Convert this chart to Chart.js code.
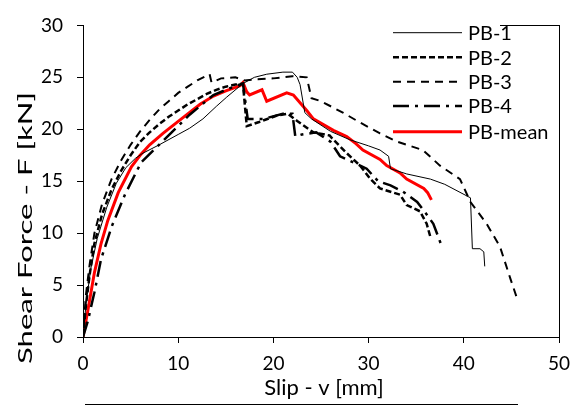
<!DOCTYPE html>
<html>
<head>
<meta charset="utf-8">
<script src="https://cdn.jsdelivr.net/npm/chart.js@4/dist/chart.umd.min.js"></script>
<style>
html,body{margin:0;padding:0;background:#fff;}
#wrap{width:581px;height:406px;position:relative;}
</style>
</head>
<body>
<div id="wrap"><canvas id="c" width="581" height="406"></canvas></div>
<script>
// ---- data (slip v [mm], shear force F [kN]) ----
const xTicks = [0, 10, 20, 30, 40, 50];
const yTicks = [0, 5, 10, 15, 20, 25, 30];
const seriesNames = ['PB-1', 'PB-2', 'PB-3', 'PB-4', 'PB-mean'];

const pb1 = [[0,0],[0.3,3],[0.8,6.5],[1.5,9.5],[2.5,12.5],[3.5,14.8],[4.5,16.3],[5.5,17.2],[6.3,17.7],[8,18.5],[10,19.5],[11.2,20.1],[12.6,21.0],[14,22.2],[15.1,23.1],[16.8,24.4],[18,25.0],[19.3,25.3],[21,25.5],[22,25.5],[22.5,25.0],[22.8,24.3],[23.3,21.6],[24,21.0],[26,19.8],[28,19.0],[30,18.4],[31.2,18.0],[32.1,17.4],[32.3,16.2],[34,15.7],[36.5,15.2],[38,14.7],[40.7,13.4],[40.9,8.5],[41.7,8.5],[42.1,8.2],[42.2,6.8]];
const pb2 = [[0,0],[0.3,3],[0.7,6],[1.2,9],[2,11.8],[3,14.2],[4,16],[5,17.5],[6,18.8],[7,19.7],[8,20.5],[9,21.2],[10,21.8],[11,22.4],[12,22.9],[13,23.4],[14,23.8],[15,24.1],[16,24.3],[16.8,24.4],[17.2,20.3],[18.5,20.7],[20.3,21.3],[21.5,21.5],[22.5,20.8],[24.2,19.7],[25.9,19.4],[26.3,19.0],[27.7,17.7],[29.1,16.5],[30.2,15.2],[31.2,14.3],[33.3,13.7],[34,12.7],[35.4,12.1],[36.1,10.9],[36.5,9.6]];
const pb3 = [[0,0],[0.3,4],[0.7,7],[1.2,10],[2,12.8],[3,15.2],[4,17],[5,18.5],[6,19.8],[7,20.9],[8,21.9],[9,22.7],[10,23.5],[11,24.1],[12,24.7],[13.3,25.3],[13.5,24.5],[14.5,24.9],[16,25.0],[17,24.7],[18,24.8],[20,24.9],[22,25.1],[23.5,25.0],[24,23.0],[25,22.7],[27.3,21.6],[29,20.7],[31.2,19.6],[33,18.8],[35.7,18.0],[37.5,16.5],[39.6,15.2],[40.7,13.0],[42.4,10.9],[43.8,8.7],[44.9,5.6],[45.6,3.7]];
const pb4 = [[0,0],[0.5,1.5],[1.2,4.3],[1.9,7.5],[3.0,10.6],[4.4,13.7],[6.1,16.8],[8.1,18.6],[10.2,20.5],[11.2,21.4],[13.7,23.3],[16.1,24.2],[16.8,24.4],[17.3,21.0],[19,21.0],[21,21.5],[22,21.5],[22.3,19.3],[23,19.5],[24.5,19.7],[26,18.8],[27,17.4],[28.4,16.8],[29.8,16.2],[31,15.0],[32.3,14.6],[33.6,14.0],[35.1,13.0],[36.1,11.8],[36.8,10.9],[37.7,8.7]];
const pbMean = [[0,0],[0.5,2.5],[1.2,6.2],[1.9,9.0],[2.6,11.2],[3.7,13.9],[5.1,16.4],[6,17.5],[7,18.5],[8.4,19.6],[10.2,20.9],[12.3,22.4],[13.7,23.2],[15,23.7],[16.5,24.2],[16.8,24.5],[17.2,23.6],[17.5,23.3],[18.8,23.8],[19.3,22.7],[21.4,23.5],[22.1,23.3],[23.5,21.8],[24.2,21.0],[26.3,19.9],[27.7,19.3],[28.7,18.6],[29.4,18.0],[31.2,17.1],[31.9,16.5],[33.3,15.8],[34,15.2],[35.8,14.3],[36.2,13.9],[36.6,13.2]];

const toXY = a => a.map(p => ({x: p[0], y: p[1]}));

const styles = [
  {color:'#000', width:1, dash:[]},
  {color:'#000', width:2.5, dash:[6,3]},
  {color:'#000', width:2, dash:[8,6]},
  {color:'#000', width:2.5, dash:[16,6,3,6]},
  {color:'#ff0000', width:3, dash:[]}
];
const allData = [pb1, pb2, pb3, pb4, pbMean];

const datasets = allData.map((d, i) => ({
  label: seriesNames[i],
  data: toXY(d),
  borderColor: styles[i].color,
  borderWidth: styles[i].width,
  borderDash: styles[i].dash,
  pointRadius: 0,
  tension: 0,
  fill: false
}));

const FONT = 'Lato, "Open Sans", sans-serif';

const deco = {
  id: 'deco',
  afterDraw(chart) {
    const ctx = chart.ctx;
    const a = chart.chartArea;
    ctx.save();
    ctx.strokeStyle = '#000';
    ctx.lineWidth = 1;
    ctx.setLineDash([]);
    // right border
    ctx.beginPath();
    ctx.moveTo(Math.round(a.right) + 0.5, Math.round(a.top));
    ctx.lineTo(Math.round(a.right) + 0.5, Math.round(a.bottom) + 6);
    ctx.stroke();
    // small top segment near legend
    ctx.beginPath();
    ctx.moveTo(500, Math.round(a.top) + 0.5);
    ctx.lineTo(Math.round(a.right) + 1, Math.round(a.top) + 0.5);
    ctx.stroke();
    // bottom rule below chart
    ctx.beginPath();
    ctx.moveTo(85, 404.5);
    ctx.lineTo(518, 404.5);
    ctx.stroke();

    // legend
    const lx0 = 393, lx1 = 462, tx = 468;
    const rows = [32.7, 57.3, 81.7, 106, 131.7];
    ctx.font = '20px ' + FONT;
    ctx.textBaseline = 'middle';
    ctx.textAlign = 'left';
    rows.forEach((yy, i) => {
      const s = styles[i];
      ctx.strokeStyle = s.color;
      ctx.lineWidth = s.width;
      ctx.setLineDash(s.dash);
      ctx.beginPath();
      ctx.moveTo(lx0, yy);
      ctx.lineTo(lx1, yy);
      ctx.stroke();
      ctx.setLineDash([]);
      ctx.fillStyle = '#000';
      ctx.fillText(seriesNames[i], tx, yy + 1);
    });

    // axis titles
    ctx.fillStyle = '#000';
    ctx.font = '22px ' + FONT;
    ctx.textAlign = 'center';
    ctx.textBaseline = 'alphabetic';
    ctx.fillText('Slip - v [mm]', 324, 395);

    ctx.save();
    ctx.translate(32, 228);
    ctx.rotate(-Math.PI / 2);
    ctx.font = '20px ' + FONT;
    const t = 'Shear Force - F [kN]';
    const w = ctx.measureText(t).width;
    ctx.scale(272 / w, 1);
    ctx.textAlign = 'center';
    ctx.textBaseline = 'alphabetic';
    ctx.fillText(t, 0, 0);
    ctx.restore();
    ctx.restore();
  }
};

new Chart(document.getElementById('c'), {
  type: 'line',
  data: { datasets },
  options: {
    responsive: false,
    animation: false,
    layout: { padding: { left: 0, right: 22, top: 14, bottom: 0 } },
    plugins: { legend: { display: false }, tooltip: { enabled: false } },
    scales: {
      x: {
        type: 'linear', min: 0, max: 50,
        afterBuildTicks: s => { s.ticks = xTicks.map(v => ({value: v})); },
        afterFit: s => { s.height = 69; },
        grid: { display: true, drawOnChartArea: false, drawTicks: true, tickLength: 6, color: '#000' },
        border: { display: true, color: '#000', width: 1 },
        ticks: { color: '#000', font: { family: FONT, size: 19 }, padding: 9, maxRotation: 0 }
      },
      y: {
        type: 'linear', min: 0, max: 30,
        afterBuildTicks: s => { s.ticks = yTicks.map(v => ({value: v})); },
        afterFit: s => { s.width = 83; },
        grid: { display: true, drawOnChartArea: false, drawTicks: true, tickLength: 6, color: '#000' },
        border: { display: true, color: '#000', width: 1 },
        ticks: { color: '#000', font: { family: FONT, size: 19 }, padding: 14 }
      }
    }
  },
  plugins: [deco]
});
</script>
</body>
</html>
